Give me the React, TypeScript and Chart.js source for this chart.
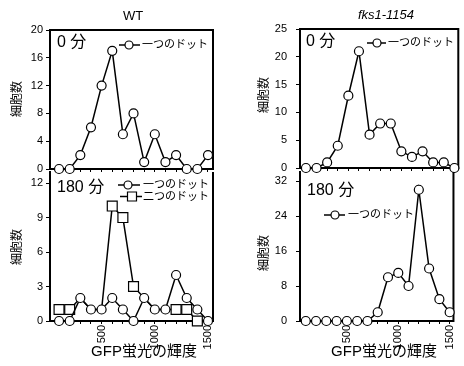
import React, { useEffect, useRef } from "react";
import { Chart, registerables } from "chart.js";

Chart.register(...registerables);

const W = 464;
const H = 366;
const FONT = '"Liberation Sans", Arial, "Noto Sans CJK JP", sans-serif';

// ---- data ----
const brightness = [100, 200, 300, 400, 500, 600, 700, 800, 900, 1000, 1100, 1200, 1300, 1400, 1500];
const labeledXTicks = [500, 1000, 1500];
const wt0One = [0, 0, 2, 6, 12, 17, 5, 8, 1, 5, 1, 2, 0, 0, 2];
const wt180One = [0, 0, 2, 1, 1, 2, 1, 0, 2, 1, 1, 4, 2, 1, 0];
const wt180Two = [1, 1, 2, 1, 1, 10, 9, 3, 2, 1, 1, 1, 1, 0, 0];
const fks0One = [0, 0, 1, 4, 13, 21, 6, 8, 8, 3, 2, 3, 1, 1, 0];
const fks180One = [0, 0, 0, 0, 0, 0, 0, 2, 10, 11, 8, 30, 12, 5, 2];
const wt0YTicks = [0, 4, 8, 12, 16, 20];
const wt180YTicks = [0, 3, 6, 9, 12];
const fks0YTicks = [0, 5, 10, 15, 20, 25];
const fks180YTicks = [0, 8, 16, 24, 32];

const strainWT = "WT";
const strainFks = "fks1-1154";
const time0 = "0 分";
const time180 = "180 分";
const oneDot = "一つのドット";
const twoDots = "二つのドット";
const yTitle = "細胞数";
const xTitle = "GFP蛍光の輝度";

type Series = { data: number[]; style: "circle" | "rect"; label: string; radius: number | number[] };
type TextItem = { text: string; x: number; y: number; size: number; align?: CanvasTextAlign; rotate?: boolean; italic?: boolean };
type LegendItem = { text: string; style: "circle" | "rect"; x1: number; x2: number; mx: number; y: number; tx: number };
type PanelSpec = {
  area: { left: number; top: number; right: number; bottom: number };
  xMin: number;
  xMax: number;
  yMax: number;
  yTicks: number[];
  yLabelPad: number;
  showXLabels: boolean;
  xAxisH: number;
  topBorder: boolean;
  series: Series[];
  texts: TextItem[];
  legend: LegendItem[];
};

const squareRadius = wt180Two.map((v, i) => (v === wt180One[i] ? 0 : 7));

const panels: PanelSpec[] = [
  {
    area: { left: 50, top: 30, right: 213, bottom: 169 },
    xMin: 15, xMax: 1547, yMax: 20, yTicks: wt0YTicks, yLabelPad: 3,
    showXLabels: false, xAxisH: 10, topBorder: true,
    series: [{ data: wt0One, style: "circle", label: oneDot, radius: 4.5 }],
    texts: [
      { text: strainWT, x: 133, y: 16, size: 13, align: "center" },
      { text: time0, x: 57, y: 43, size: 16 },
      { text: yTitle, x: 18, y: 99, size: 12, rotate: true },
    ],
    legend: [{ text: oneDot, style: "circle", x1: 119, x2: 140, mx: 129, y: 45, tx: 142 }],
  },
  {
    area: { left: 50, top: 172, right: 213, bottom: 321 },
    xMin: 15, xMax: 1547, yMax: 12.96, yTicks: wt180YTicks, yLabelPad: 3,
    showXLabels: true, xAxisH: 45, topBorder: false,
    series: [
      { data: wt180One, style: "circle", label: oneDot, radius: 4.5 },
      { data: wt180Two, style: "rect", label: twoDots, radius: squareRadius },
    ],
    texts: [
      { text: time180, x: 57, y: 188, size: 16 },
      { text: yTitle, x: 18, y: 247, size: 12, rotate: true },
      { text: xTitle, x: 144, y: 352, size: 15, align: "center" },
    ],
    legend: [
      { text: oneDot, style: "circle", x1: 118, x2: 140, mx: 128, y: 185, tx: 143 },
      { text: twoDots, style: "rect", x1: 120, x2: 142, mx: 132, y: 196.5, tx: 143 },
    ],
  },
  {
    area: { left: 300, top: 29, right: 460, bottom: 168 },
    xMin: 44, xMax: 1537, yMax: 25, yTicks: fks0YTicks, yLabelPad: 9,
    showXLabels: false, xAxisH: 10, topBorder: true,
    series: [{ data: fks0One, style: "circle", label: oneDot, radius: 4.5 }],
    texts: [
      { text: strainFks, x: 386, y: 15, size: 13, align: "center", italic: true },
      { text: time0, x: 306, y: 42, size: 16 },
      { text: yTitle, x: 265, y: 95, size: 12, rotate: true },
    ],
    legend: [{ text: oneDot, style: "circle", x1: 367, x2: 386, mx: 377, y: 43, tx: 388 }],
  },
  {
    area: { left: 300, top: 172, right: 460, bottom: 321 },
    xMin: 44, xMax: 1537, yMax: 34.06, yTicks: fks180YTicks, yLabelPad: 9,
    showXLabels: true, xAxisH: 45, topBorder: false,
    series: [{ data: fks180One, style: "circle", label: oneDot, radius: 4.5 }],
    texts: [
      { text: time180, x: 307, y: 191, size: 16 },
      { text: yTitle, x: 265, y: 253, size: 12, rotate: true },
      { text: xTitle, x: 384, y: 352, size: 15, align: "center" },
    ],
    legend: [{ text: oneDot, style: "circle", x1: 324, x2: 345, mx: 335, y: 215, tx: 348 }],
  },
];

function overlayPlugin(p: PanelSpec) {
  return {
    id: "overlay",
    beforeDatasetsDraw(chart: any) {
      const { ctx, chartArea: a } = chart;
      ctx.save();
      ctx.strokeStyle = "#000";
      ctx.lineWidth = 2;
      ctx.beginPath();
      if (p.topBorder) {
        ctx.moveTo(a.left - 1, a.top);
        ctx.lineTo(a.right + 1, a.top);
      }
      ctx.moveTo(a.right, a.top);
      ctx.lineTo(a.right, a.bottom + 1);
      ctx.stroke();
      ctx.restore();
    },
    afterDraw(chart: any) {
      const ctx: CanvasRenderingContext2D = chart.ctx;
      ctx.save();
      ctx.textBaseline = "middle";
      for (const t of p.texts) {
        ctx.fillStyle = "#000";
        ctx.font = `${t.italic ? "italic " : ""}${t.size}px ${FONT}`;
        if (t.rotate) {
          ctx.save();
          ctx.translate(t.x, t.y);
          ctx.rotate(-Math.PI / 2);
          ctx.textAlign = "center";
          ctx.fillText(t.text, 0, 0);
          ctx.restore();
        } else {
          ctx.textAlign = t.align ?? "left";
          ctx.fillText(t.text, t.x, t.y);
        }
      }
      for (const l of p.legend) {
        ctx.strokeStyle = "#000";
        ctx.lineWidth = 1.5;
        ctx.beginPath();
        ctx.moveTo(l.x1, l.y);
        ctx.lineTo(l.x2, l.y);
        ctx.stroke();
        ctx.fillStyle = "#fff";
        ctx.lineWidth = 1.2;
        ctx.beginPath();
        if (l.style === "rect") ctx.rect(l.mx - 4.5, l.y - 4.5, 9, 9);
        else ctx.arc(l.mx, l.y, 4, 0, Math.PI * 2);
        ctx.fill();
        ctx.stroke();
        ctx.fillStyle = "#000";
        ctx.font = `11px ${FONT}`;
        ctx.textAlign = "left";
        ctx.fillText(l.text, l.tx, l.y);
      }
      ctx.restore();
    },
  };
}

function Panel({ spec }: { spec: PanelSpec }) {
  const ref = useRef<HTMLCanvasElement | null>(null);
  useEffect(() => {
    if (!ref.current) return;
    const yAxisW = 50;
    const a = spec.area;
    const chart = new Chart(ref.current, {
      type: "line",
      data: {
        datasets: spec.series.map((s) => ({
          label: s.label,
          data: s.data.map((v, i) => ({ x: brightness[i], y: v })),
          borderColor: "#000",
          borderWidth: 1.5,
          backgroundColor: "#fff",
          pointStyle: s.style,
          pointRadius: s.radius,
          pointBorderWidth: 1.2,
          pointBorderColor: "#000",
          pointBackgroundColor: "#fff",
          tension: 0,
          clip: false,
        })),
      },
      options: {
        animation: false,
        responsive: false,
        devicePixelRatio: 1,
        events: [],
        layout: {
          padding: {
            left: a.left - yAxisW,
            top: a.top,
            right: W - a.right,
            bottom: H - a.bottom - spec.xAxisH,
          },
        },
        plugins: { legend: { display: false }, tooltip: { enabled: false }, title: { display: false } },
        scales: {
          x: {
            type: "linear",
            min: spec.xMin,
            max: spec.xMax,
            afterBuildTicks: (s: any) => {
              s.ticks = brightness.map((v) => ({ value: v }));
            },
            afterFit: (s: any) => {
              s.height = spec.xAxisH;
            },
            ticks: {
              display: spec.showXLabels,
              autoSkip: false,
              minRotation: 90,
              maxRotation: 90,
              padding: 1,
              color: "#000",
              font: { size: 11, family: FONT },
              callback: (v: any) => (labeledXTicks.includes(Number(v)) ? String(v) : ""),
            },
            grid: { drawOnChartArea: false, drawTicks: true, tickLength: 3, color: "#000", lineWidth: 1 },
            border: { display: true, color: "#000", width: 2 },
          },
          y: {
            type: "linear",
            min: 0,
            max: spec.yMax,
            afterBuildTicks: (s: any) => {
              s.ticks = spec.yTicks.map((v) => ({ value: v }));
            },
            afterFit: (s: any) => {
              s.width = yAxisW;
            },
            ticks: {
              padding: spec.yLabelPad,
              color: "#000",
              font: { size: 11, family: FONT },
            },
            grid: { drawOnChartArea: false, drawTicks: true, tickLength: 4, color: "#000", lineWidth: 1 },
            border: { display: true, color: "#000", width: 2 },
          },
        },
      },
      plugins: [overlayPlugin(spec)],
    } as any);
    return () => chart.destroy();
  }, [spec]);
  return (
    <canvas
      ref={ref}
      width={W}
      height={H}
      style={{ position: "absolute", left: 0, top: 0, width: W, height: H }}
    />
  );
}

export default function App() {
  return (
    <div style={{ position: "fixed", left: 0, top: 0, width: W, height: H, background: "#fff", overflow: "hidden" }}>
      {panels.map((p, i) => (
        <Panel key={i} spec={p} />
      ))}
    </div>
  );
}
